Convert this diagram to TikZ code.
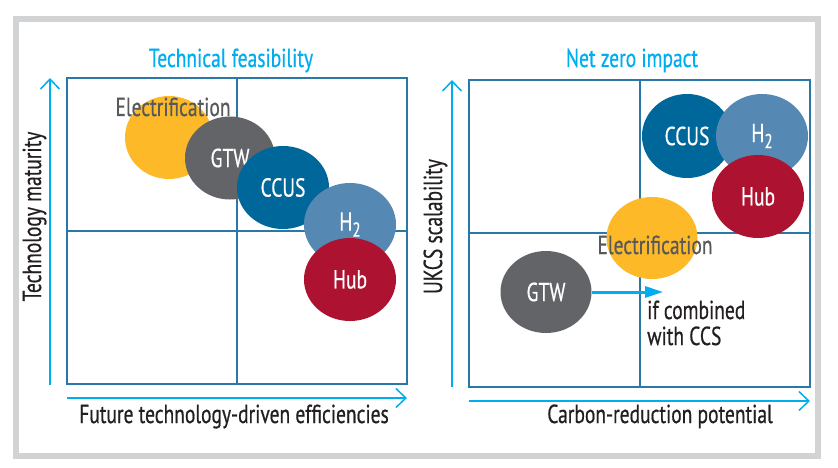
\documentclass[tikz,border=0pt]{standalone}
\usepackage{fontspec}
\setmainfont[FakeStretch=0.75,FakeBold=0.6]{PT Sans}
\usetikzlibrary{shapes.geometric,arrows.meta}
\definecolor{cyanc}{HTML}{00AEEF}
\definecolor{boxc}{HTML}{2A78A8}
\definecolor{framec}{HTML}{D1D3D4}
\definecolor{yel}{HTML}{FDB928}
\definecolor{gtwc}{HTML}{636467}
\definecolor{ccusc}{HTML}{00679B}
\definecolor{h2c}{HTML}{5589B4}
\definecolor{hubc}{HTML}{AD1230}
\definecolor{elec}{HTML}{58595B}
\definecolor{txt}{HTML}{231F20}
\tikzset{
  lbl/.style={font=\fontsize{26}{26}\selectfont, inner sep=0pt},
  bub/.style={ellipse, inner sep=0pt, text=white, font=\fontsize{26}{26}\selectfont},
  quad/.style={draw=boxc, line width=1.8pt},
  axis/.style={draw=cyanc, line width=1.5pt, -{Straight Barb[length=10pt,width=19pt,line width=1.5pt]}},
}
\begin{document}
\begin{tikzpicture}[x=1pt,y=-1pt]
\useasboundingbox (0,0) rectangle (838,468);
\fill[white] (0,0) rectangle (838,468);
\draw[framec, line width=6pt] (16,19) rectangle (818,456);
% ---------- left panel ----------
\node[lbl, text=cyanc, anchor=base] (t1) at (231,67) {Technical feasibility};
\draw[quad] (67,78) rectangle (407,384);
\draw[quad] (237,78) -- (237,384);
\draw[quad] (67,231) -- (407,231);
\coordinate (ly0) at (50,385); \coordinate (ly1) at (50,78);
\coordinate (lx0) at (67,398); \coordinate (lx1) at (407,398);
\draw[axis] (ly0) -- (ly1);
\draw[axis] (lx0) -- (lx1);
\node[lbl, text=txt, anchor=base, rotate=90] (ylL) at (41,216.5) {Technology maturity};
\node[lbl, text=txt, anchor=base] (xlL) at (234,423) {Future technology-driven efficiencies};
\node[bub, fill=yel, minimum width=88pt, minimum height=83pt] (elecL) at (169,137.5) {};
\node[bub, fill=gtwc, minimum width=90pt, minimum height=83pt] (gtwL) at (230,158) {GTW};
\node[bub, fill=ccusc, minimum width=92pt, minimum height=83pt] (ccusL) at (283,187.5) {CCUS};
\node[bub, fill=h2c, minimum width=92pt, minimum height=83pt] (h2L) at (350,224.5) {H\raisebox{-6pt}{\fontsize{20}{20}\selectfont 2}};
\node[bub, fill=hubc, minimum width=92pt, minimum height=83pt] (hubL) at (350,279.5) {Hub};
\node[lbl, text=elec, anchor=base] (elecLt) at (173,116) {Electrification};
% ---------- right panel ----------
\node[lbl, text=cyanc, anchor=base] (t2) at (632,67) {Net zero impact};
\draw[quad] (469,80) rectangle (810,387);
\draw[quad] (640,80) -- (640,387);
\draw[quad] (469,233) -- (810,233);
\coordinate (ry0) at (452,387); \coordinate (ry1) at (452,80);
\coordinate (rx0) at (469,401); \coordinate (rx1) at (810,401);
\draw[axis] (ry0) -- (ry1);
\draw[axis] (rx0) -- (rx1);
\node[lbl, text=txt, anchor=base, rotate=90] (ylR) at (442,226.5) {UKCS scalability};
\node[lbl, text=txt, anchor=base] (xlR) at (660,423) {Carbon-reduction potential};
\node[bub, fill=ccusc, minimum width=90pt, minimum height=84pt] (ccusR) at (687,136) {CCUS};
\node[bub, fill=h2c, minimum width=92pt, minimum height=84pt] (h2R) at (762,136) {H\raisebox{-6pt}{\fontsize{20}{20}\selectfont 2}};
\node[bub, fill=hubc, minimum width=92pt, minimum height=83pt] (hubR) at (758,196.5) {Hub};
\node[bub, fill=yel, minimum width=91pt, minimum height=82pt] (elecR) at (652,238) {};
\node[lbl, text=elec, anchor=base] (elecRt) at (655,254) {Electrification};
\node[bub, fill=gtwc, minimum width=91pt, minimum height=82pt] (gtwR) at (546,292) {GTW};
\coordinate (tip) at (663,292);
\draw[cyanc, line width=3pt, -{Triangle[length=18pt,width=11pt]}] (gtwR.east) -- (tip);
\node[lbl, text=txt, anchor=base west, align=left] (ccs) at (647,345) {if combined\\with CCS};
\end{tikzpicture}
\end{document}
